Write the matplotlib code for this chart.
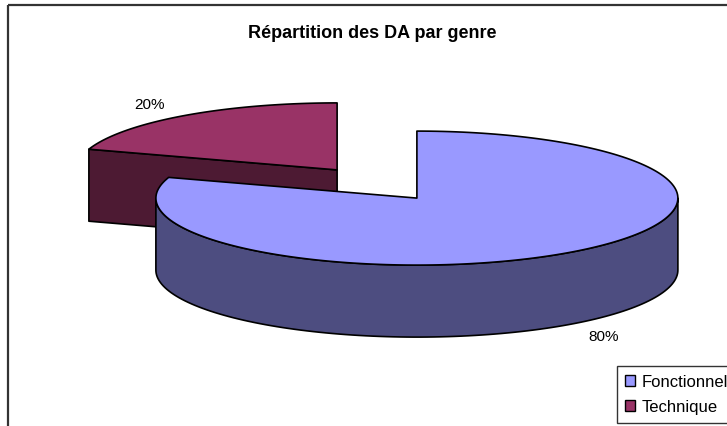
import numpy as np
import matplotlib.pyplot as plt
from matplotlib.patches import Polygon, Rectangle, Patch

plt.rcParams['font.family'] = ['Liberation Sans', 'DejaVu Sans']

# donnees
genres = ['Fonctionnel', 'Technique']
parts = [80, 20]
couleurs = ['#9999FF', '#993366']
couleurs_cote = ['#4D4D80', '#4D1A33']
titre = 'Répartition des DA par genre'

# mise en page du camembert 3D (en pixels)
cx, cy = 377, 185
rx, ry = 261, 67
epaisseur = 72
eclate = 0.26

fig = plt.figure(figsize=(7.27, 4.27), dpi=100)
ax = fig.add_axes([0, 0, 1, 1])
ax.set_xlim(0, 727)
ax.set_ylim(427, 0)
ax.axis('off')

# cadre du graphique
ax.add_patch(Rectangle((8, 6), 900, 600, fill=False, edgecolor='#333333', lw=1.6))


def pt(x0, y0, t, dz=0):
    return x0 + rx * np.cos(t), y0 - ry * np.sin(t) + dz


total = sum(parts)
cum = 0
tranches = []
for i, v in enumerate(parts):
    a1 = 90 - cum / total * 360
    cum += v
    a2 = 90 - cum / total * 360
    mid = np.radians((a1 + a2) / 2)
    x0 = cx + eclate * rx * np.cos(mid)
    y0 = cy - eclate * ry * np.sin(mid)
    # angles ccw: de a2 a a1
    tranches.append((y0, i, x0, np.radians(a2), np.radians(a1), mid))

# de l'arriere vers l'avant
for y0, i, x0, t1, t2, mid in sorted(tranches):
    kw = dict(edgecolor='black', lw=1.2, joinstyle='round')
    # faces radiales
    for t, vis in ((t1, np.cos(t1) > 1e-6), (t2, np.cos(t2) < -1e-6)):
        if vis:
            px, py = pt(x0, y0, t)
            face = [(x0, y0), (px, py), (px, py + epaisseur), (x0, y0 + epaisseur)]
            ax.add_patch(Polygon(face, closed=True, facecolor=couleurs_cote[i], **kw))
    # bord exterieur visible (devant: sin < 0)
    for k in (-1, 0, 1):
        lo = max(t1, np.pi + 2 * np.pi * k)
        hi = min(t2, 2 * np.pi + 2 * np.pi * k)
        if hi > lo:
            tt = np.linspace(lo, hi, 120)
            haut = [pt(x0, y0, t) for t in tt]
            bas = [pt(x0, y0, t, epaisseur) for t in tt[::-1]]
            ax.add_patch(Polygon(haut + bas, closed=True, facecolor=couleurs_cote[i], **kw))
    # dessus
    tt = np.linspace(t1, t2, 200)
    dessus = [(x0, y0)] + [pt(x0, y0, t) for t in tt]
    ax.add_patch(Polygon(dessus, closed=True, facecolor=couleurs[i], **kw))
    # etiquette
    r = 1.22
    lx = x0 + r * rx * np.cos(mid)
    ly = y0 - r * ry * np.sin(mid) + (epaisseur if np.sin(mid) < 0 else 0)
    ax.text(lx, ly, f'{parts[i]}%', ha='center', va='center', fontsize=11)

ax.text(372, 33, titre, ha='center', va='center', fontsize=13, fontweight='bold')

poignees = [Patch(facecolor=c, edgecolor='black', lw=1) for c in couleurs]
leg = fig.legend(poignees, genres, loc='upper left',
                 bbox_to_anchor=(617 / 727, 1 - 367 / 427), fontsize=12,
                 frameon=True, fancybox=False, edgecolor='black',
                 handlelength=0.6, handleheight=0.6, handletextpad=0.4,
                 borderpad=0.5, labelspacing=0.6, borderaxespad=0)
leg.get_frame().set_linewidth(1)

fig.savefig('out.png', dpi=100)
